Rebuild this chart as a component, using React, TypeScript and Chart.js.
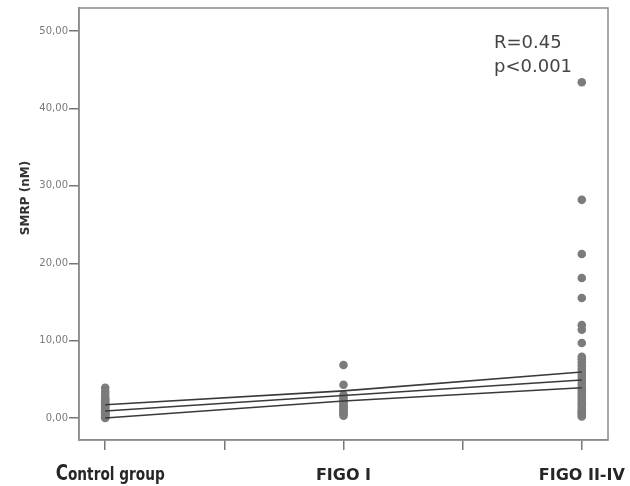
import React, { useEffect, useRef } from "react";
import { Chart, registerables } from "chart.js";

Chart.register(...registerables);

const categories = ["Control group", "FIGO I", "FIGO II-IV"];
const yTickValues = [0, 10, 20, 30, 40, 50];
const xTickValues = [0, 0.5, 1, 1.5, 2];

const controlValues = [0.0, 0.1, 0.2, 0.3, 0.4, 0.5, 0.6, 0.7, 0.8, 0.9, 1.0, 1.2, 1.4, 1.6, 1.8, 2.0, 2.2, 2.4, 2.6, 3.0, 3.4, 3.9];
const figoIValues = [0.3, 0.5, 0.7, 0.9, 1.1, 1.3, 1.5, 1.8, 2.0, 2.3, 2.6, 3.0, 4.3, 6.85];
const figoIIIVValues = [0.2, 0.4, 0.6, 0.8, 1.0, 1.3, 1.6, 1.9, 2.2, 2.5, 2.8, 3.1, 3.4, 3.7, 4.0, 4.4, 4.8, 5.2, 5.6, 6.0, 6.4, 6.8, 7.2, 7.6, 7.9, 9.7, 11.4, 12.0, 15.5, 18.1, 21.2, 28.2, 43.4];

const fitLine = [0.9, 2.9, 4.9];
const upperLine = [1.7, 3.5, 5.95];
const lowerLine = [0.0, 2.2, 3.9];

const annotationLines = ["R=0.45", "p<0.001"];
const yTitle = "SMRP (nM)";

const groups = [controlValues, figoIValues, figoIIIVValues];

export default function App() {
  const ref = useRef<HTMLCanvasElement | null>(null);

  useEffect(() => {
    const canvas = ref.current;
    if (!canvas) return;

    const pointData: { x: number; y: number }[] = [];
    groups.forEach((vals, i) => vals.forEach((v) => pointData.push({ x: i, y: v })));

    const toLine = (arr: number[]) => arr.map((v, i) => ({ x: i, y: v }));

    const decorPlugin = {
      id: "decor",
      afterDraw(chart: any) {
        const ctx = chart.ctx;
        const ca = chart.chartArea;
        const xs = chart.scales.x;
        ctx.save();
        // box
        ctx.strokeStyle = "#8a8a8a";
        ctx.lineWidth = 1.5;
        ctx.strokeRect(ca.left, ca.top, ca.right - ca.left, ca.bottom - ca.top);

        // x labels
        ctx.fillStyle = "#262626";
        ctx.textBaseline = "alphabetic";
        categories.forEach((c, i) => {
          const px = xs.getPixelForValue(i);
          if (i === 0) {
            const first = c.charAt(0);
            const rest = c.slice(1);
            ctx.save();
            ctx.font = "bold 22px 'DejaVu Sans'";
            const w1 = ctx.measureText(first).width;
            ctx.font = "bold 18px 'DejaVu Sans'";
            const w2 = ctx.measureText(rest).width;
            const sx = 0.76;
            const total = (w1 + w2) * sx;
            ctx.translate(px + 5 - total / 2, 480);
            ctx.scale(sx, 1);
            ctx.textAlign = "left";
            ctx.font = "bold 22px 'DejaVu Sans'";
            ctx.fillText(first, 0, 0);
            ctx.font = "bold 18px 'DejaVu Sans'";
            ctx.fillText(rest, w1, 0);
            ctx.restore();
          } else {
            ctx.font = "bold 16px 'DejaVu Sans'";
            ctx.textAlign = "center";
            ctx.fillText(c, px, 480);
          }
        });

        // y title
        ctx.save();
        ctx.translate(26, 198);
        ctx.rotate(-Math.PI / 2);
        ctx.font = "bold 12px 'DejaVu Sans'";
        ctx.fillStyle = "#333";
        ctx.textAlign = "center";
        ctx.textBaseline = "middle";
        ctx.fillText(yTitle, 0, 0);
        ctx.restore();

        // annotation
        ctx.font = "18px 'DejaVu Sans'";
        ctx.fillStyle = "#444";
        ctx.textAlign = "left";
        ctx.textBaseline = "alphabetic";
        ctx.fillText(annotationLines[0], 494, 48);
        ctx.fillText(annotationLines[1], 494, 72);
        ctx.restore();
      },
    };

    const lineStyle = {
      type: "line" as const,
      borderColor: "#3a3a3a",
      borderWidth: 1.6,
      pointRadius: 0,
      showLine: true,
      fill: false,
      tension: 0,
      order: 0,
    };

    const chart = new Chart(canvas, {
      type: "scatter",
      data: {
        datasets: [
          {
            label: "SMRP",
            data: pointData,
            backgroundColor: "#7b7b7b",
            borderWidth: 0,
            pointRadius: 4.3,
            order: 1,
          } as any,
          { ...lineStyle, label: "upper", data: toLine(upperLine) } as any,
          { ...lineStyle, label: "fit", data: toLine(fitLine) } as any,
          { ...lineStyle, label: "lower", data: toLine(lowerLine) } as any,
        ],
      },
      options: {
        responsive: false,
        animation: false,
        layout: { padding: { top: 8, right: 22, left: 0, bottom: 0 } },
        plugins: { legend: { display: false }, tooltip: { enabled: false } },
        scales: {
          x: {
            type: "linear",
            min: -0.11,
            max: 2.11,
            afterBuildTicks: (s: any) => {
              s.ticks = xTickValues.map((v) => ({ value: v }));
            },
            afterFit: (s: any) => {
              s.height = 46;
            },
            ticks: { callback: () => "", font: { size: 1 } },
            grid: {
              drawOnChartArea: false,
              drawTicks: true,
              tickLength: 10,
              color: "#777",
              lineWidth: 1.5,
            },
            border: { color: "#8a8a8a", width: 1.5 },
          },
          y: {
            type: "linear",
            min: -2.85,
            max: 53,
            afterBuildTicks: (s: any) => {
              s.ticks = yTickValues.map((v) => ({ value: v }));
            },
            afterFit: (s: any) => {
              s.width = 79;
            },
            ticks: {
              callback: (v: any) => Number(v).toFixed(2).replace(".", ","),
              font: { family: "'DejaVu Sans'", size: 10 },
              color: "#7a7a7a",
              padding: 1,
            },
            grid: {
              drawOnChartArea: false,
              drawTicks: true,
              tickLength: 10,
              color: "#777",
              lineWidth: 1.5,
            },
            border: { color: "#8a8a8a", width: 1.5 },
          },
        },
      },
      plugins: [decorPlugin],
    });

    return () => chart.destroy();
  }, []);

  return (
    <div style={{ position: "absolute", left: 0, top: 0, width: 630, height: 486, background: "#fff" }}>
      <canvas ref={ref} width={630} height={486} style={{ display: "block" }} />
    </div>
  );
}
